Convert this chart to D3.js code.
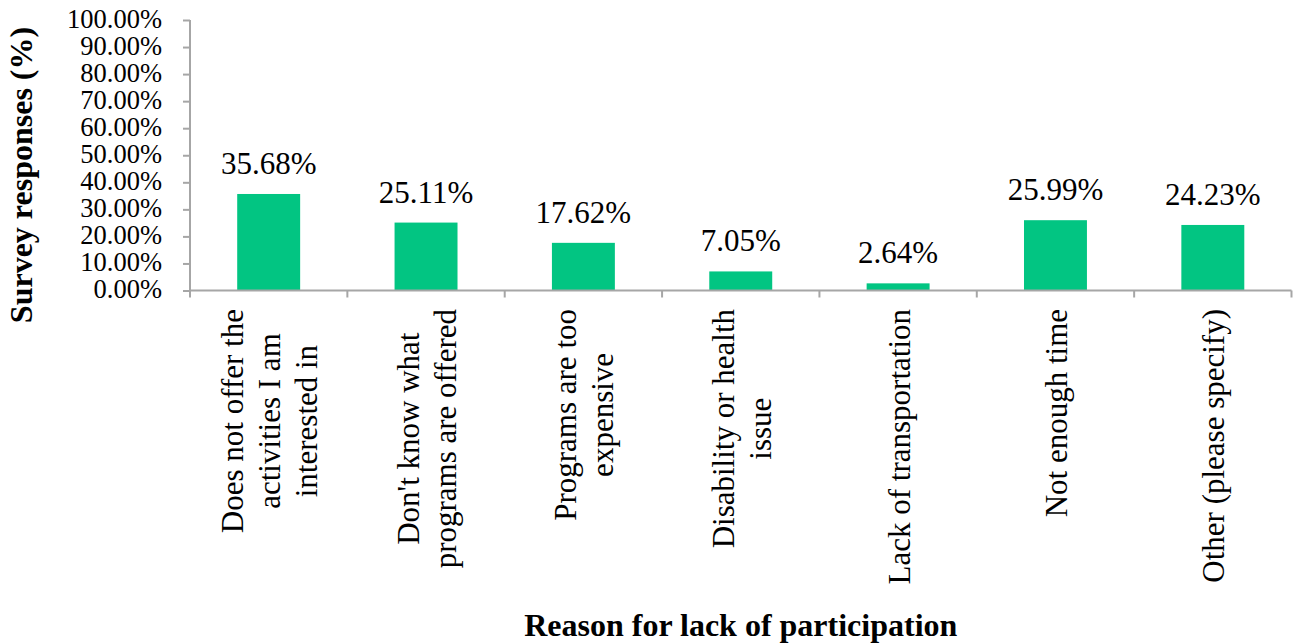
<!DOCTYPE html>
<html>
<head>
<meta charset="utf-8">
<script src="https://cdn.jsdelivr.net/npm/d3@7"></script>
<style>
  html, body { margin: 0; padding: 0; background: #fff; }
  svg { display: block; }
  svg text { font-family: "Liberation Serif", "Times New Roman", serif; }
</style>
</head>
<body>
<svg id="chart" width="1298" height="643"></svg>
<script>
// Reasons for not taking part, each split into its wrapped label lines
const categories = [
  ["Does not offer the", "activities I am", "interested in"],
  ["Don't know what", "programs are offered"],
  ["Programs are too", "expensive"],
  ["Disability or health", "issue"],
  ["Lack of transportation"],
  ["Not enough time"],
  ["Other (please specify)"]
];
const values = [35.68, 25.11, 17.62, 7.05, 2.64, 25.99, 24.23];
const yTicks = [0, 10, 20, 30, 40, 50, 60, 70, 80, 90, 100];
const yTitle = "Survey responses (%)";
const xTitle = "Reason for lack of participation";

const svg = d3.select("#chart");
const plotLeft = 190, plotRight = 1291.5, plotTop = 20, plotBottom = 290.5;
const barColor = "#02C582";
const axisColor = "#A6A6A6";

const x = d3.scaleBand()
  .domain(d3.range(categories.length))
  .range([plotLeft, plotRight])
  .paddingInner(0.6)
  .paddingOuter(0.3);

const y = d3.scaleLinear().domain([0, 100]).range([plotBottom, plotTop]);

// Bars
svg.append("g").selectAll("rect")
  .data(values)
  .join("rect")
  .attr("x", (d, i) => x(i))
  .attr("width", x.bandwidth())
  .attr("y", d => y(d))
  .attr("height", d => y(0) - y(d))
  .attr("fill", barColor);

// Value labels above bars
svg.append("g").selectAll("text")
  .data(values)
  .join("text")
  .attr("x", (d, i) => x(i) + x.bandwidth() / 2)
  .attr("y", d => y(d) - 20)
  .attr("text-anchor", "middle")
  .attr("font-size", 31)
  .attr("fill", "#000")
  .text(d => d.toFixed(2) + "%");

// Y axis
const yAxis = svg.append("g")
  .attr("transform", `translate(${plotLeft},0)`)
  .call(d3.axisLeft(y).tickValues(yTicks).tickSize(7).tickPadding(21)
    .tickFormat(d => d.toFixed(2) + "%"));
yAxis.select(".domain").attr("stroke", axisColor).attr("stroke-width", 2)
  .attr("d", `M0,${plotTop}V${plotBottom}`);
yAxis.selectAll(".tick line").attr("stroke", axisColor).attr("stroke-width", 2);
yAxis.selectAll(".tick text")
  .attr("font-size", 26.5).attr("fill", "#000").attr("dy", "0.28em");

// X axis: ticks sit at the category boundaries
const bounds = d3.range(categories.length + 1)
  .map(i => plotLeft + i * (plotRight - plotLeft) / categories.length);
const xAxis = svg.append("g");
xAxis.append("line")
  .attr("x1", plotLeft).attr("x2", plotRight).attr("y1", plotBottom).attr("y2", plotBottom)
  .attr("stroke", axisColor).attr("stroke-width", 2);
xAxis.selectAll("line.tick")
  .data(bounds)
  .join("line")
  .attr("class", "tick")
  .attr("x1", d => d).attr("x2", d => d)
  .attr("y1", plotBottom).attr("y2", plotBottom + 7)
  .attr("stroke", axisColor).attr("stroke-width", 2);

// Rotated category labels; lines are centred on the longest one,
// whose end sits just under the axis
const labels = svg.append("g").selectAll("text")
  .data(categories)
  .join("text")
  .attr("transform", (d, i) => `translate(${x(i) + x.bandwidth() / 2},309) rotate(-90)`)
  .attr("text-anchor", "middle")
  .attr("font-size", 31)
  .attr("fill", "#000");
labels.each(function(lines) {
  const t = d3.select(this);
  const n = lines.length;
  const spans = lines.map((line, k) =>
    t.append("tspan")
      .attr("y", ((k - (n - 1) / 2) * 1.2 + 0.37) + "em")
      .text(line));
  const longest = d3.max(spans, s => s.node().getComputedTextLength());
  spans.forEach(s => s.attr("x", -longest / 2));
});

// Axis titles
svg.append("text")
  .attr("transform", "translate(32,175) rotate(-90)")
  .attr("text-anchor", "middle")
  .attr("font-size", 32)
  .attr("font-weight", "bold")
  .text(yTitle);

svg.append("text")
  .attr("x", (plotLeft + plotRight) / 2)
  .attr("y", 636)
  .attr("text-anchor", "middle")
  .attr("font-size", 32)
  .attr("font-weight", "bold")
  .text(xTitle);
</script>
</body>
</html>
